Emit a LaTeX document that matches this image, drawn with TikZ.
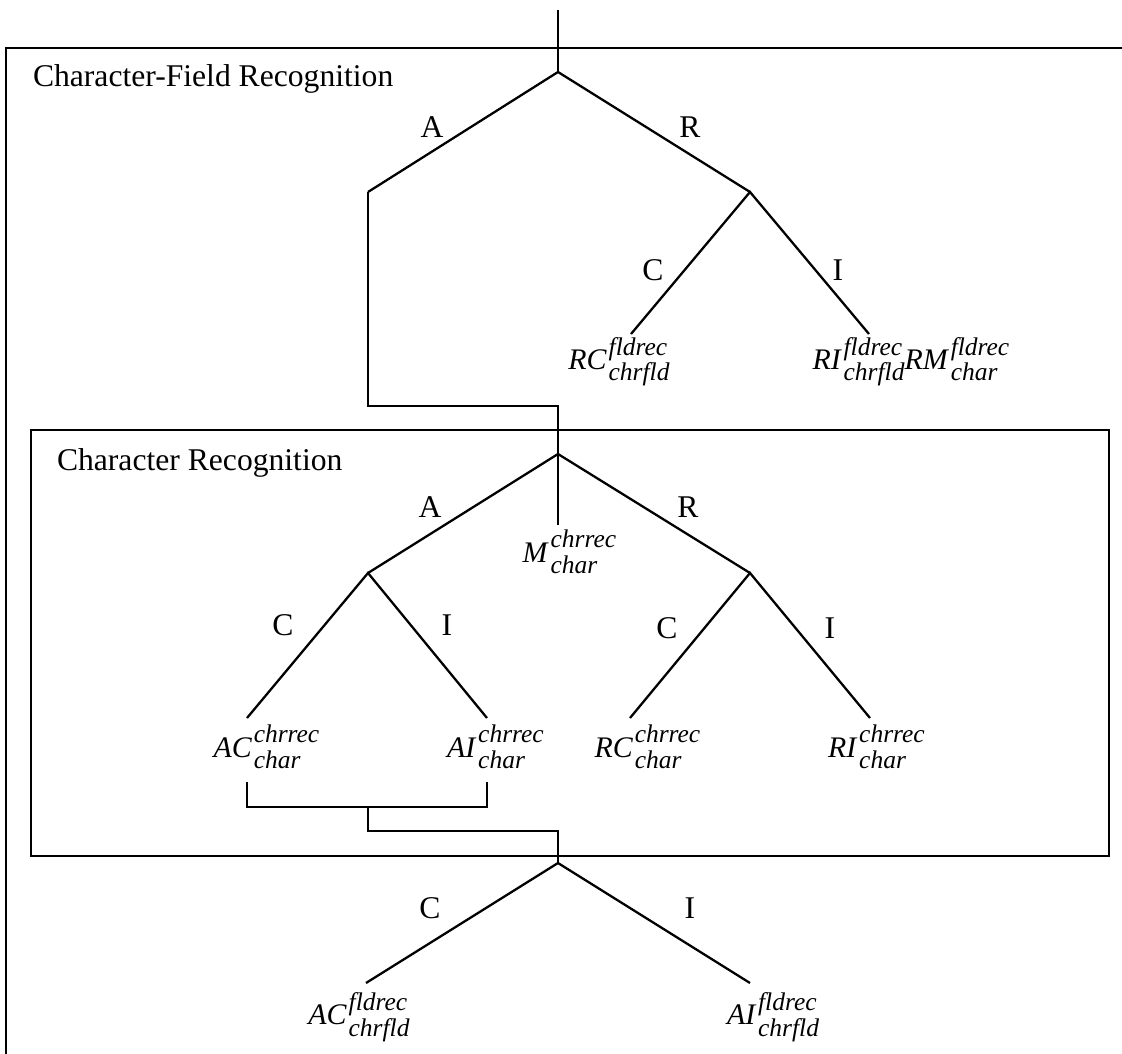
\documentclass[tikz,border=0pt]{standalone}
\usepackage{fontspec}
\setmainfont{Liberation Serif}
\usetikzlibrary{positioning}
\newsavebox\supbox
\newsavebox\subbox
\newcommand{\scr}{\fontsize{14.5}{15}\selectfont\itshape}
\newcommand{\term}[3]{\textit{#1}\kern1pt\sbox\supbox{\scr #2}\sbox\subbox{\scr #3}%
\rlap{\raisebox{8pt}{\usebox\supbox}}\raisebox{-6.5pt}{\usebox\subbox}%
\ifdim\wd\supbox>\wd\subbox\hspace{\dimexpr\wd\supbox-\wd\subbox\relax}\fi}

\begin{document}
\begin{tikzpicture}[x=0.02cm,y=-0.02cm,line width=1.3pt,
every node/.style={inner sep=0pt,outer sep=0pt},
br/.style={font=\fontsize{18}{22}\selectfont},
leaf/.style={font=\fontsize{17}{20}\selectfont},
boxtitle/.style={font=\fontsize{18}{22}\selectfont,anchor=base west}]
\useasboundingbox (0,0) rectangle (1122,1054);

% frames
\draw (1122,48) -- (6,48) -- (6,1054);
\draw (31,430) rectangle (1109,856);
\node[boxtitle] (fldtitle) at (33,87) {Character-Field Recognition};
\node[boxtitle] (chrtitle) at (57,470) {Character Recognition};

% character-field level
\coordinate (in) at (558,10);
\coordinate (F) at (558,72);
\coordinate (FA) at (368,192);
\coordinate (FR) at (750,192);
\coordinate (FRC) at (631,334);
\coordinate (FRI) at (869,334);
\node[br] (fa) at (432,127) {A};
\node[br] (fr) at (690,127) {R};
\node[br] (frc) at (653,270) {C};
\node[br] (fri) at (838,270) {I};
\node[leaf] (RCf) at (619,362) {\term{RC}{fldrec}{chrfld}};
\node[leaf] (RIf) at (905,362) {\term{RI}{fldrec}{chrfld}\term{RM}{fldrec}{char}};

\draw (in) -- (F);
\draw (FA) -- (F) -- (FR);
\draw (FRC) -- (FR) -- (FRI);

% character level
\coordinate (C) at (558,454);
\coordinate (CA) at (368,573);
\coordinate (CR) at (750,573);
\coordinate (CM) at (558,525);
\coordinate (CAC) at (247,718);
\coordinate (CAI) at (487,718);
\coordinate (CRC) at (630,718);
\coordinate (CRI) at (870,718);
\node[br] (ca) at (430,507) {A};
\node[br] (cr) at (688,507) {R};
\node[br] (cac) at (283,625) {C};
\node[br] (cai) at (447,625) {I};
\node[br] (crc) at (667,628) {C};
\node[br] (cri) at (830,628) {I};
\node[leaf] (Mc) at (560,552) {\term{M}{chrrec}{char}};
\node[leaf] (ACc) at (257,747) {\term{AC}{chrrec}{char}};
\node[leaf] (AIc) at (486,747) {\term{AI}{chrrec}{char}};
\node[leaf] (RCc) at (638,747) {\term{RC}{chrrec}{char}};
\node[leaf] (RIc) at (867,747) {\term{RI}{chrrec}{char}};

\draw (FA) -- ++(0,214) -| (C);
\draw (CA) -- (C) -- (CR);
\draw (C) -- (CM);
\draw (CAC) -- (CA) -- (CAI);
\draw (CRC) -- (CR) -- (CRI);

% accepted characters back to the field
\coordinate (JL) at (247,782);
\coordinate (JR) at (487,782);
\coordinate (JM) at (368,807);
\coordinate (G) at (558,863);
\coordinate (GC) at (366,983);
\coordinate (GI) at (750,983);
\node[br] (gc) at (430,908) {C};
\node[br] (gi) at (690,908) {I};
\node[leaf] (ACf) at (359,1017) {\term{AC}{fldrec}{chrfld}};
\node[leaf] (AIf) at (773,1017) {\term{AI}{fldrec}{chrfld}};

\draw (JL) -- ++(0,25) -| (JR);
\draw (JM) -- ++(0,24) -| (G);
\draw (GC) -- (G) -- (GI);
\end{tikzpicture}
\end{document}
